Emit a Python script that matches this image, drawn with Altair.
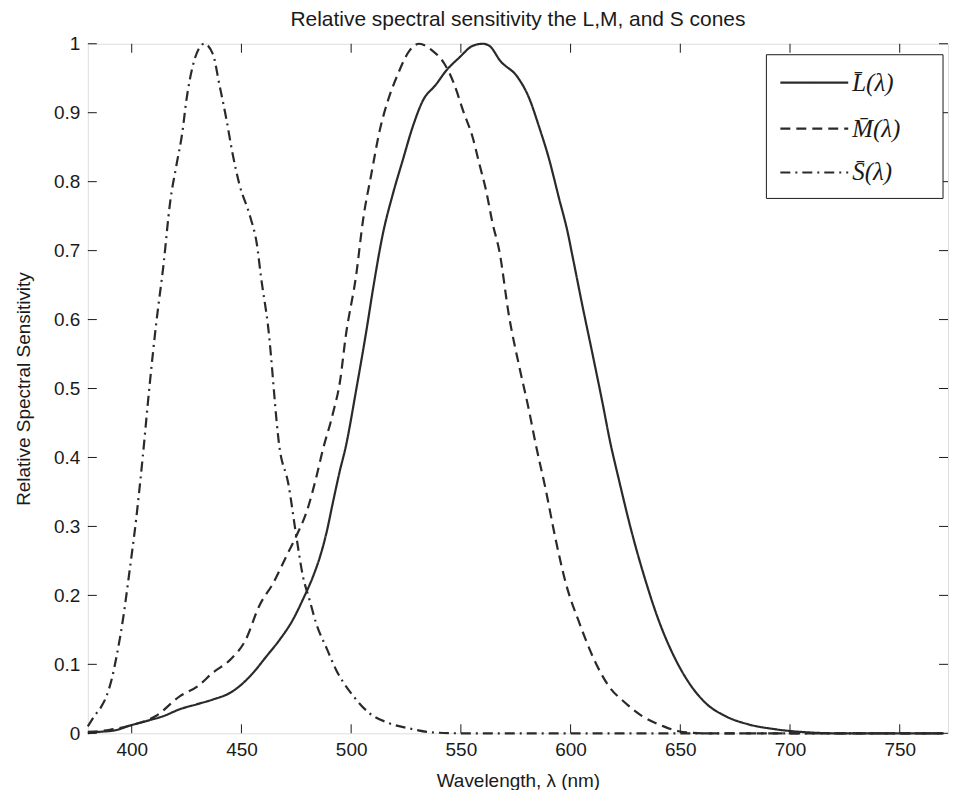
import altair as alt
import pandas as pd

# ---- data ----
L_nm = [380, 385, 392, 399, 407, 414.5, 422, 429.6, 437, 445, 449, 455.4, 461.5, 467.5, 473.5,
        478, 482.7, 485.7, 488.7, 491.7, 494.8, 497.5, 502.4, 507, 510, 514.5, 519, 523.5, 528,
        532.6, 538.7, 543.3, 549.3, 555.4, 560, 563, 568, 576, 581, 585.7, 590, 594.8, 598.5,
        601, 605.4, 610, 614.5, 618, 622, 628, 634, 640, 646.3, 654, 661.5, 670.5, 681, 693,
        710, 720, 770]
L_val = [0.0, 0.002, 0.004, 0.011, 0.018, 0.025, 0.035, 0.042, 0.049, 0.059, 0.068, 0.088, 0.112,
         0.136, 0.165, 0.194, 0.228, 0.255, 0.29, 0.335, 0.38, 0.415, 0.50, 0.585, 0.645, 0.725,
         0.782, 0.831, 0.879, 0.917, 0.941, 0.961, 0.98, 0.997, 1.0, 0.997, 0.975, 0.951, 0.922,
         0.879, 0.835, 0.775, 0.729, 0.69, 0.62, 0.55, 0.48, 0.423, 0.368, 0.29, 0.223, 0.165,
         0.117, 0.073, 0.044, 0.025, 0.013, 0.006, 0.001, 0.0, 0.0]

M_nm = [380, 390, 400, 411, 422, 430, 437, 445, 452, 458, 464.5, 470.5, 475, 480, 484, 487,
        491.7, 495, 497.5, 502.4, 505.4, 509.2, 513, 516.7, 521.3, 526.6, 531, 537, 542.5, 547,
        551, 555.4, 558.4, 561.5, 564.5, 567.5, 572, 576.6, 581, 584, 588.7, 593.2, 597.8, 604,
        610, 617.5, 625, 632.6, 641.7, 649.3, 660, 770]
M_val = [0.002, 0.005, 0.012, 0.025, 0.054, 0.068, 0.088, 0.107, 0.136, 0.184, 0.218, 0.257,
         0.286, 0.324, 0.37, 0.41, 0.464, 0.512, 0.575, 0.667, 0.744, 0.811, 0.874, 0.917, 0.956,
         0.99, 1.0, 0.99, 0.971, 0.941, 0.903, 0.864, 0.826, 0.787, 0.739, 0.70, 0.604, 0.532,
         0.469, 0.421, 0.353, 0.281, 0.218, 0.160, 0.112, 0.068, 0.044, 0.025, 0.011, 0.003,
         0.0, 0.0]

S_nm = [380, 383, 386, 388, 391, 393, 396, 399, 402, 405, 408, 411, 414.5, 417.5, 420.5, 423,
        425, 428, 431, 433, 437, 440, 443, 446, 449, 454, 457, 459, 462, 467.5, 471.3, 475, 478,
        481, 484, 489, 493, 501, 508, 517, 528, 536, 550, 770]
S_val = [0.01, 0.025, 0.038, 0.05, 0.08, 0.11, 0.165, 0.235, 0.31, 0.40, 0.50, 0.59, 0.68, 0.77,
         0.826, 0.87, 0.92, 0.97, 0.995, 1.0, 0.985, 0.94, 0.893, 0.84, 0.797, 0.749, 0.71, 0.66,
         0.594, 0.411, 0.363, 0.286, 0.228, 0.194, 0.16, 0.122, 0.093, 0.054, 0.03, 0.015, 0.006,
         0.0015, 0.0, 0.0]

series_labels = ["L\u0304(\u03bb)", "M\u0304(\u03bb)", "S\u0304(\u03bb)"]
dash_patterns = [[1, 0], [10, 6], [10, 5, 2, 5]]

x_ticks = [400, 450, 500, 550, 600, 650, 700, 750]
y_ticks = [0, 0.1, 0.2, 0.3, 0.4, 0.5, 0.6, 0.7, 0.8, 0.9, 1]

title_text = "Relative spectral sensitivity the L,M, and S cones"
x_title = "Wavelength, \u03bb (nm)"
y_title = "Relative Spectral Sensitivity"

# ---- build tables ----
rows = []
for lab, xs, ys in zip(series_labels, [L_nm, M_nm, S_nm], [L_val, M_val, S_val]):
    for xv, yv in zip(xs, ys):
        rows.append({"series": lab, "nm": xv, "v": yv})
curves_df = pd.DataFrame(rows)

W, H = 862, 691
FONT = "Liberation Sans"
INK = "#1a1a1a"
TICK = 9

dash_scale = alt.Scale(domain=series_labels, range=dash_patterns)
xscale = alt.Scale(domain=[380, 772], nice=False, zero=False)
yscale = alt.Scale(domain=[0, 1], nice=False)

curves = alt.Chart(curves_df).mark_line(strokeWidth=2.2, color="#2a2a2a", interpolate="monotone").encode(
    x=alt.X("nm:Q", scale=xscale,
            axis=alt.Axis(values=x_ticks, title=x_title, ticks=False, domain=False, grid=False,
                          labelFontSize=19, labelFont=FONT, labelColor=INK, labelPadding=7,
                          titleFontSize=19, titleFont=FONT, titleFontWeight="normal",
                          titleColor=INK, titlePadding=12)),
    y=alt.Y("v:Q", scale=yscale,
            axis=alt.Axis(values=y_ticks, format="~g", title=y_title, ticks=False, domain=False,
                          grid=False, labelFontSize=19, labelFont=FONT, labelColor=INK,
                          labelPadding=8, titleFontSize=19, titleFont=FONT,
                          titleFontWeight="normal", titleColor=INK, titlePadding=20)),
    strokeDash=alt.StrokeDash("series:N", scale=dash_scale, legend=None),
    detail="series:N",
)

xt_df = pd.DataFrame({"t": x_ticks})
yt_df = pd.DataFrame({"t": y_ticks})

xt_bottom = alt.Chart(xt_df).mark_rule(color=INK, strokeWidth=1).encode(
    x=alt.X("t:Q", scale=xscale), y=alt.value(H), y2=alt.value(H - TICK))
xt_top = alt.Chart(xt_df).mark_rule(color=INK, strokeWidth=1).encode(
    x=alt.X("t:Q", scale=xscale), y=alt.value(0), y2=alt.value(TICK))
yt_left = alt.Chart(yt_df).mark_rule(color=INK, strokeWidth=1).encode(
    y=alt.Y("t:Q", scale=yscale), x=alt.value(0), x2=alt.value(TICK))
yt_right = alt.Chart(yt_df).mark_rule(color=INK, strokeWidth=1).encode(
    y=alt.Y("t:Q", scale=yscale), x=alt.value(W - TICK), x2=alt.value(W))

# ---- legend (drawn inside the axes, like the original) ----
leg_df = pd.DataFrame({"series": series_labels, "ly": [39, 85, 129]})
box = alt.Chart(pd.DataFrame({"a": [0]})).mark_rect(fill="white", stroke=INK, strokeWidth=1).encode(
    x=alt.value(680), x2=alt.value(857), y=alt.value(11), y2=alt.value(155))
leg_lines = alt.Chart(leg_df).mark_rule(strokeWidth=2.2, color="#2a2a2a").encode(
    x=alt.value(694), x2=alt.value(762),
    y=alt.Y("ly:Q", scale=None),
    strokeDash=alt.StrokeDash("series:N", scale=dash_scale, legend=None))
leg_text = alt.Chart(leg_df).mark_text(align="left", baseline="middle", font="Liberation Serif",
                                       fontStyle="italic", fontSize=25, color=INK).encode(
    x=alt.value(766), y=alt.Y("ly:Q", scale=None), text="series:N")

chart = alt.layer(curves, xt_bottom, xt_top, yt_left, yt_right, box, leg_lines, leg_text).properties(
    width=W, height=H,
    title=alt.TitleParams(title_text, fontSize=21, font=FONT, fontWeight="normal", color=INK,
                          anchor="middle", offset=5),
    autosize=alt.AutoSizeParams(type="none"),
    padding={"left": 80, "top": 35, "right": 3, "bottom": 56},
).configure_view(stroke=INK, strokeWidth=1).configure(background="white")

chart.save("out.html", embed_options={"renderer": "svg", "actions": False})
